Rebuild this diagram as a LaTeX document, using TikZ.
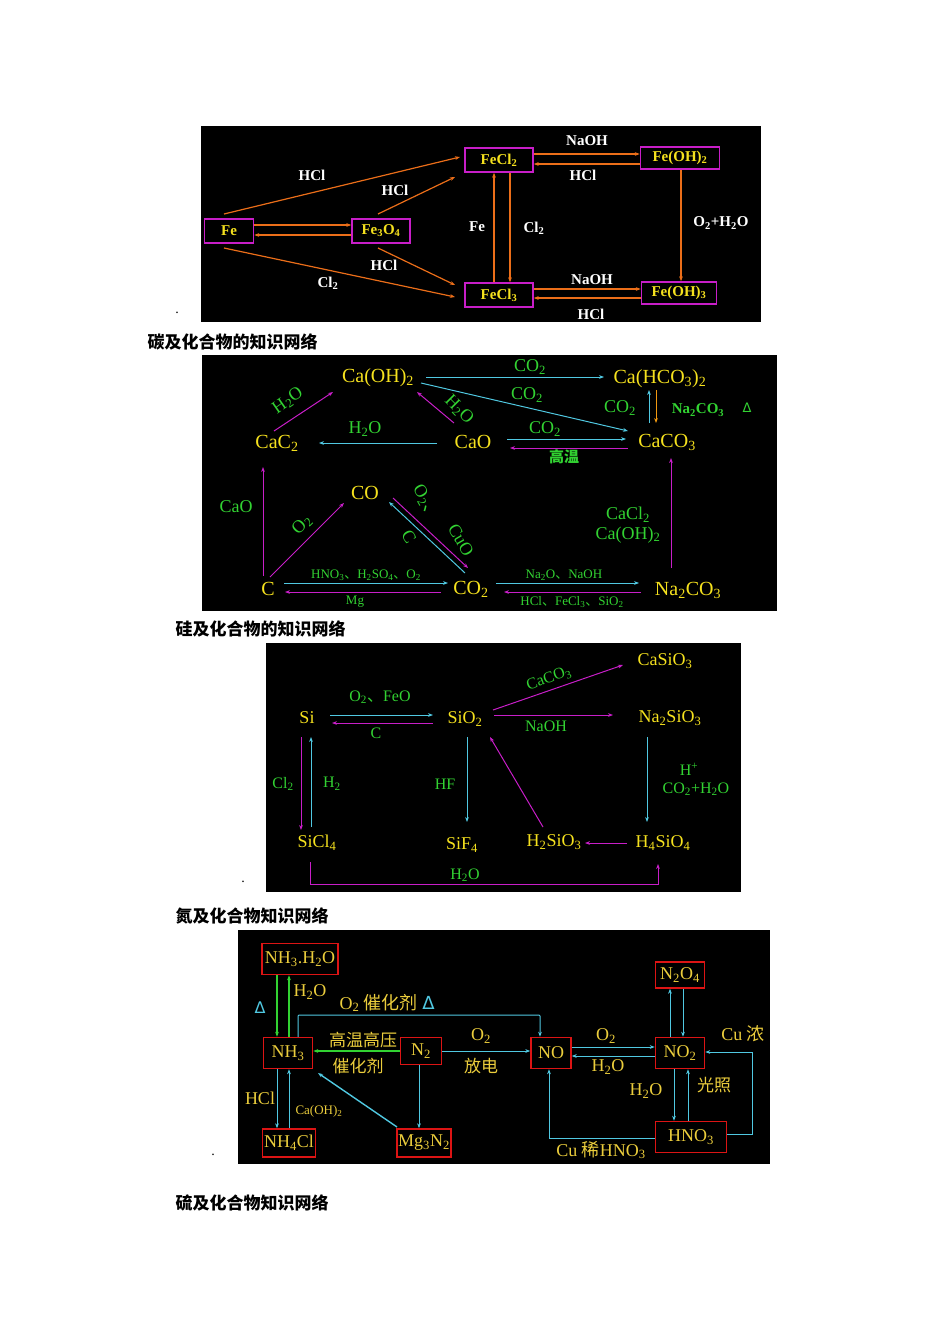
\documentclass[tikz,border=0pt]{standalone}
\usepackage{fontspec}
\setmainfont{Liberation Serif}
\newfontfamily\cjk{Noto Sans CJK SC}
\newfontfamily\dv{DejaVu Sans}
\usetikzlibrary{arrows.meta}
\newcommand\ssb[1]{\textsubscript{#1}}
\newcommand\dunh{{\cjk 、}}
\definecolor{yel}{RGB}{245,225,30}
\definecolor{yel4}{RGB}{235,205,60}
\definecolor{grn}{RGB}{50,210,50}
\definecolor{cy}{RGB}{80,200,225}
\definecolor{mag}{RGB}{200,30,200}
\definecolor{org}{RGB}{235,110,25}
\definecolor{rbox}{RGB}{220,20,20}
\tikzset{
 fs/.style={font=\fontsize{#1}{#1}\selectfont},
 p1n/.style={draw=mag,line width=1.5pt,text=yel,font=\bfseries\fontsize{15}{15}\selectfont,inner sep=2pt,minimum height=24pt},
 p1l/.style={text=white,font=\bfseries\fontsize{15}{15}\selectfont},
 oa/.style={draw=org,line width=1.2pt,-{Stealth[length=5pt]}},
 ca/.style={draw=cy,line width=1pt,-{Stealth[length=5pt]}},
 ma/.style={draw=mag,line width=1pt,-{Stealth[length=5pt]}},
 ga/.style={draw=grn,line width=1.4pt,-{Stealth[length=5pt]}},
 ya/.style={draw=org!70!yellow,line width=1pt,-{Stealth[length=5pt]}},
 c2/.style={text=yel,fs=20},
 gl/.style={text=grn,fs=18},
 gls/.style={text=grn,fs=13},
 c3/.style={text=yel,fs=18},
 g3/.style={text=grn,fs=16},
 n4/.style={draw=rbox,line width=1.5pt,text=yel4,fs=18,inner sep=1pt},
 y4/.style={text=yel4,fs=18},
 ttl/.style={anchor=west,font=\cjk\bfseries\fontsize{17}{17}\selectfont},
 bul/.style={font=\fontsize{14}{14}\selectfont}
}
\begin{document}
\begin{tikzpicture}[x=1pt,y=-1pt]
\useasboundingbox[fill=white] (0,0) rectangle (950,1344);
% ===== Panel 1
\fill[black] (201,126) rectangle (761,322);
\node[p1n,minimum width=49pt] (fe) at (229,231) {Fe};
\node[p1n,minimum width=58pt] (fe3o4) at (381,231) {Fe\ssb{3}O\ssb{4}};
\node[p1n,minimum width=68pt] (fecl2) at (499,160) {FeCl\ssb{2}};
\node[p1n,minimum width=79pt,minimum height=22pt] (feoh2) at (680,158) {Fe(OH)\ssb{2}};
\node[p1n,minimum width=68pt] (fecl3) at (499,295) {FeCl\ssb{3}};
\node[p1n,minimum width=75pt,minimum height=22pt] (feoh3) at (679,293) {Fe(OH)\ssb{3}};
\coordinate (a1) at (224,214); \coordinate (a2) at (460,157);
\draw[oa] (a1) -- (a2);
\draw[oa] (fe.east|-0,225) -- (fe3o4.west|-0,225);
\draw[oa] (fe3o4.west|-0,235) -- (fe.east|-0,235);
\draw[oa] (378,214) -- (455,177);
\draw[oa] (224,248) -- (455,297);
\draw[oa] (378,248) -- (455,285);
\draw[oa] (494,0|-fecl3.north) -- (494,0|-fecl2.south);
\draw[oa] (510,0|-fecl2.south) -- (510,0|-fecl3.north);
\draw[oa] (fecl2.east|-0,154) -- (feoh2.west|-0,154);
\draw[oa] (feoh2.west|-0,164) -- (fecl2.east|-0,164);
\draw[oa] (681,0|-feoh2.south) -- (681,0|-feoh3.north);
\draw[oa] (fecl3.east|-0,289) -- (feoh3.west|-0,289);
\draw[oa] (feoh3.west|-0,298) -- (fecl3.east|-0,298);
\node[p1l] (l1) at (312,175) {HCl};
\node[p1l] (l2) at (395,190) {HCl};
\node[p1l] (l3) at (477,227) {Fe};
\node[p1l] (l4) at (534,228) {Cl\ssb{2}};
\node[p1l] (l5) at (587,141) {NaOH};
\node[p1l] (l6) at (583,175) {HCl};
\node[p1l] (l7) at (721,223) {O\ssb{2}+H\ssb{2}O};
\node[p1l] (l8) at (384,265) {HCl};
\node[p1l] (l9) at (328,283) {Cl\ssb{2}};
\node[p1l] (l10) at (592,280) {NaOH};
\node[p1l] (l11) at (591,314) {HCl};
\node[bul] (b1) at (177,313) {.};
\node[ttl] (t1) at (144,342) {碳及化合物的知识网络};
% ===== Panel 2
\fill[black] (202,355) rectangle (777,611);
\node[c2] (caoh2) at (378,378) {Ca(OH)\ssb{2}};
\node[c2] (cahco3) at (660,379) {Ca(HCO\ssb{3})\ssb{2}};
\node[c2] (cac2) at (277,443) {CaC\ssb{2}};
\node[c2] (cao) at (473,442) {CaO};
\node[c2] (caco3) at (667,442) {CaCO\ssb{3}};
\node[c2] (co) at (365,493) {CO};
\node[c2] (c) at (268,589) {C};
\node[c2] (co2) at (471,589) {CO\ssb{2}};
\node[c2] (na2co3) at (688,590) {Na\ssb{2}CO\ssb{3}};
\draw[ca] (426,377) -- (604,377);
\draw[ca] (421,383) -- (628,431);
\draw[ma] (274,431) -- (333,392);
\draw[ma] (454,423) -- (417,392);
\draw[ca] (437,443) -- (319,443);
\draw[ca] (507,439) -- (626,439);
\draw[ma] (628,448) -- (510,448);
\draw[ca] (649,423) -- (649,390);
\draw[ya] (656,390) -- (656,423);
\draw[ma] (263,576) -- (263,467);
\draw[ma] (270,577) -- (344,503);
\draw[ca] (465,573) -- (389,502);
\draw[ma] (393,498) -- (468,568);
\draw[ca] (284,583) -- (448,583);
\draw[ma] (441,592) -- (285,592);
\draw[ca] (496,583) -- (639,583);
\draw[ma] (641,592) -- (504,592);
\draw[ma] (671,568) -- (671,458);
\node[gl] (m1) at (530,367) {CO\ssb{2}};
\node[gl] (m2) at (527,395) {CO\ssb{2}};
\node[gl] (m3) at (620,408) {CO\ssb{2}};
\node[gl,font=\bfseries\fontsize{15}{15}\selectfont] (m4) at (698,410) {Na\ssb{2}CO\ssb{3}};
\node[gl,font=\dv\fontsize{13}{13}\selectfont] (m5) at (747,408) {Δ};
\node[gl,rotate=35] (m6) at (288,401) {H\ssb{2}O};
\node[gl,rotate=-45] (m7) at (459,410) {H\ssb{2}O};
\node[gl] (m8) at (365,429) {H\ssb{2}O};
\node[gl] (m9) at (545,429) {CO\ssb{2}};
\node[gl,font=\cjk\bfseries\fontsize{15}{15}\selectfont] (m10) at (564,457) {高温};
\node[gl] (m11) at (236,507) {CaO};
\node[gl,rotate=45] (m12) at (302,525) {O\ssb{2}};
\node[gl,rotate=-60] (m13) at (426,503) {O\ssb{2}\dunh};
\node[gl,rotate=-60] (m14) at (461,540) {CuO};
\node[gl,rotate=-60] (m15) at (409,537) {C};
\node[gl] (m16) at (628,515) {CaCl\ssb{2}};
\node[gl] (m17) at (628,535) {Ca(OH)\ssb{2}};
\node[gls] (m18) at (366,575) {HNO\ssb{3}\dunh H\ssb{2}SO\ssb{4}\dunh O\ssb{2}};
\node[gls] (m19) at (355,602) {Mg};
\node[gls] (m20) at (564,575) {Na\ssb{2}O\dunh NaOH};
\node[gls] (m21) at (572,602) {HCl\dunh FeCl\ssb{3}\dunh SiO\ssb{2}};
\node[ttl] (t2) at (172,629) {硅及化合物的知识网络};
% ===== Panel 3
\fill[black] (266,643) rectangle (741,892);
\node[c3] (si) at (307,718) {Si};
\node[c3] (sio2) at (465,719) {SiO\ssb{2}};
\node[c3] (casio3) at (665,661) {CaSiO\ssb{3}};
\node[c3] (na2sio3) at (670,718) {Na\ssb{2}SiO\ssb{3}};
\node[c3] (sicl4) at (317,843) {SiCl\ssb{4}};
\node[c3] (sif4) at (462,845) {SiF\ssb{4}};
\node[c3] (h2sio3) at (554,842) {H\ssb{2}SiO\ssb{3}};
\node[c3] (h4sio4) at (663,843) {H\ssb{4}SiO\ssb{4}};
\draw[ca] (330,715) -- (433,715);
\draw[ma] (433,723) -- (332,723);
\draw[ma] (493,710) -- (623,665);
\draw[ma] (494,715) -- (613,715);
\draw[ma] (301,737) -- (301,830);
\draw[ca] (311,827) -- (311,737);
\draw[ca] (467,737) -- (467,822);
\draw[ma] (543,827) -- (490,737);
\draw[ca] (647,737) -- (647,822);
\draw[ma] (627,843) -- (585,843);
\draw[ma] (310,862) -- (310,884) -- (658,884) -- (658,864);
\node[g3] (s1) at (380,697) {O\ssb{2}\dunh FeO};
\node[g3] (s2) at (376,733) {C};
\node[g3,rotate=20] (s3) at (549,679) {CaCO\ssb{3}};
\node[g3] (s4) at (546,726) {NaOH};
\node[g3] (s5) at (283,784) {Cl\ssb{2}};
\node[g3] (s6) at (332,784) {H\ssb{2}};
\node[g3] (s7) at (445,784) {HF};
\node[g3] (s8) at (689,769) {H\textsuperscript{+}};
\node[g3] (s9) at (696,789) {CO\ssb{2}+H\ssb{2}O};
\node[g3] (s10) at (465,875) {H\ssb{2}O};
\node[bul] (b3) at (243,882) {.};
\node[ttl] (t3) at (172,916) {氮及化合物知识网络};
% ===== Panel 4
\fill[black] (238,930) rectangle (770,1164);
\node[n4,minimum width=76pt,minimum height=31pt] (nh3h2o) at (300,959) {NH\ssb{3}.H\ssb{2}O};
\node[n4,minimum width=49pt,minimum height=31pt] (nh3) at (288,1053) {NH\ssb{3}};
\node[n4,minimum width=41pt,minimum height=27pt] (n2) at (421,1051) {N\ssb{2}};
\node[n4,minimum width=40pt,minimum height=31pt] (no) at (551,1053) {NO};
\node[n4,minimum width=49pt,minimum height=31pt] (no2) at (680,1053) {NO\ssb{2}};
\node[n4,minimum width=49pt,minimum height=26pt] (n2o4) at (680,975) {N\ssb{2}O\ssb{4}};
\node[n4,minimum width=53pt,minimum height=28pt] (nh4cl) at (289,1143) {NH\ssb{4}Cl};
\node[n4,minimum width=54pt,minimum height=28pt] (mg3n2) at (424,1143) {Mg\ssb{3}N\ssb{2}};
\node[n4,minimum width=71pt,minimum height=31pt] (hno3) at (691,1137) {HNO\ssb{3}};
\draw[ga] (277,0|-nh3h2o.south) -- (277,0|-nh3.north);
\draw[ga] (289,0|-nh3.north) -- (289,0|-nh3h2o.south);
\draw[ca,rounded corners=1pt] (298,0|-nh3.north) -- (298,1015) -- (540,1015) -- (540,0|-no.north);
\draw[ga] (n2.west) -- (nh3.east|-n2.west);
\draw[ca] (n2.east) -- (no.west|-n2.east);
\draw[ca] (no.east|-0,1047) -- (no2.west|-0,1047);
\draw[ca] (no2.west|-0,1056) -- (no.east|-0,1056);
\draw[ca] (670,0|-no2.north) -- (670,0|-n2o4.south);
\draw[ca] (683,0|-n2o4.south) -- (683,0|-no2.north);
\draw[ca] (674,0|-no2.south) -- (674,0|-hno3.north);
\draw[ca] (688,0|-hno3.north) -- (688,0|-no2.south);
\draw[ca] (hno3.east|-0,1134) -- (752,1134) -- (752,1052) -- (no2.east|-0,1052);
\draw[ca] (hno3.west|-0,1138) -- (549,1138) -- (549,0|-no.south);
\draw[ca] (277,0|-nh3.south) -- (277,0|-nh4cl.north);
\draw[ca] (289,0|-nh4cl.north) -- (289,0|-nh3.south);
\draw[ca,line width=1.4pt] (397,1127) -- (318,1073);
\draw[ca] (419,0|-n2.south) -- (419,0|-mg3n2.north);
\node[text=cy,font=\dv\fontsize{16}{16}\selectfont] (d1) at (260,1008) {Δ};
\node[y4] (h1) at (310,992) {H\ssb{2}O};
\node[y4,anchor=west] (h2) at (336,1003) {O\ssb{2} {\cjk 催化剂} {\color{cy}\dv Δ}};
\node[y4,font=\cjk\fontsize{17}{17}\selectfont] (h3) at (363,1040) {高温高压};
\node[y4,font=\cjk\fontsize{17}{17}\selectfont] (h4) at (358,1066) {催化剂};
\node[y4] (h5) at (481,1036) {O\ssb{2}};
\node[y4,font=\cjk\fontsize{17}{17}\selectfont] (h6) at (481,1066) {放电};
\node[y4] (h7) at (606,1036) {O\ssb{2}};
\node[y4] (h8) at (608,1067) {H\ssb{2}O};
\node[y4] (h9) at (646,1091) {H\ssb{2}O};
\node[y4,font=\cjk\fontsize{17}{17}\selectfont] (h10) at (714,1085) {光照};
\node[y4] (h11) at (743,1034) {Cu {\cjk 浓}};
\node[y4] (h12) at (601,1150) {Cu\ {\cjk 稀}HNO\ssb{3}};
\node[y4] (h13) at (260,1098) {HCl};
\node[text=yel4,fs=13] (h14) at (319,1111) {Ca(OH)\ssb{2}};
\node[bul] (b4) at (213,1155) {.};
\node[ttl] (t4) at (172,1203) {硫及化合物知识网络};
\end{tikzpicture}
\end{document}
